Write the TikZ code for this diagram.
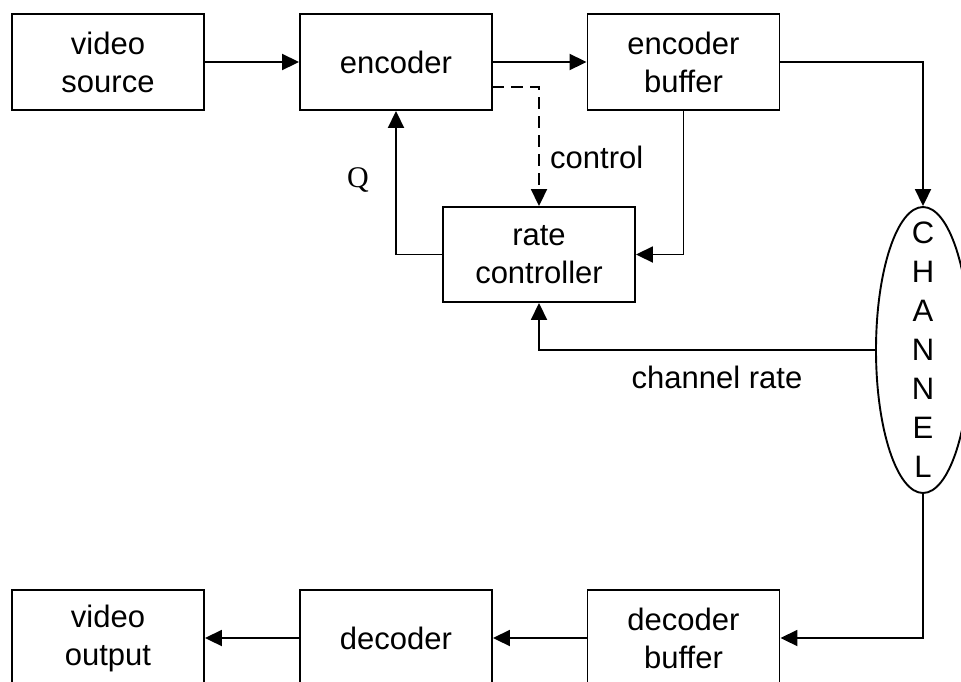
\documentclass[tikz,border=0pt]{standalone}
\usepackage{fontspec}
\setmainfont{Liberation Sans}
\newfontfamily\seriffont{Liberation Serif}
\usetikzlibrary{arrows.meta,shapes.geometric}

\tikzset{
  blockbox/.style={draw, line width=1.9pt, inner sep=0pt,
    minimum width=192pt, minimum height=96pt, align=center,
    font=\fontsize{31}{38}\selectfont},
  chanshape/.style={draw, ellipse, line width=1.9pt, inner sep=0pt,
    minimum width=94pt, minimum height=286pt},
  flow/.style={line width=1.9pt, -{Triangle[length=17pt,width=16pt]}},
  lbl/.style={inner sep=0pt, font=\fontsize{31}{38}\selectfont},
}

\begin{document}
\begin{tikzpicture}[x=1pt, y=-1pt]
  \path[use as bounding box, clip] (0,0) rectangle (961,681);

  % transmitter side
  \node[blockbox] (vsrc)   at (108,62)    {video\\source};
  \node[blockbox] (enc)    at (396,62)    {encoder};
  \node[blockbox] (encbuf) at (683.5,62)  {encoder\\buffer};
  \node[blockbox, minimum height=95pt] (rc) at (539,254.5) {rate\\controller};

  % channel
  \node[chanshape] (chan) at (923,350) {};
  \node[lbl, align=center, font=\fontsize{31}{39}\selectfont] (chantext) at (chan.center)
    {C\\H\\A\\N\\N\\E\\L};

  % receiver side
  \node[blockbox] (decbuf) at (683.5,638) {decoder\\buffer};
  \node[blockbox] (dec)    at (396,638)   {decoder};
  \node[blockbox] (vout)   at (108,638)   {video\\output};

  % data path
  \draw[flow] (vsrc.east) -- (enc.west);
  \draw[flow] (enc.east) -- (encbuf.west);
  \draw[flow] (encbuf.east) -| (chan.north);
  \draw[flow] (chan.south) |- (decbuf.east);
  \draw[flow] (decbuf.west) -- (dec.east);
  \draw[flow] (dec.west) -- (vout.east);

  % rate control loop
  \coordinate (ctrlstart) at (492,87);
  \draw[flow, dash pattern=on 12pt off 7pt] (ctrlstart) -| (rc.north);
  \draw[flow] (encbuf.south) |- (rc.east);
  \draw[flow] (rc.west) -| (enc.south);
  \draw[flow] (chan.west) -| (rc.south);

  % labels
  \node[lbl, anchor=west] (ctrllbl) at (550,157) {control};
  \node[lbl, font=\fontsize{30}{36}\seriffont] (qlbl) at (358,180) {Q};
  \node[lbl] (ratelbl) at (717,377) {channel rate};
\end{tikzpicture}
\end{document}
